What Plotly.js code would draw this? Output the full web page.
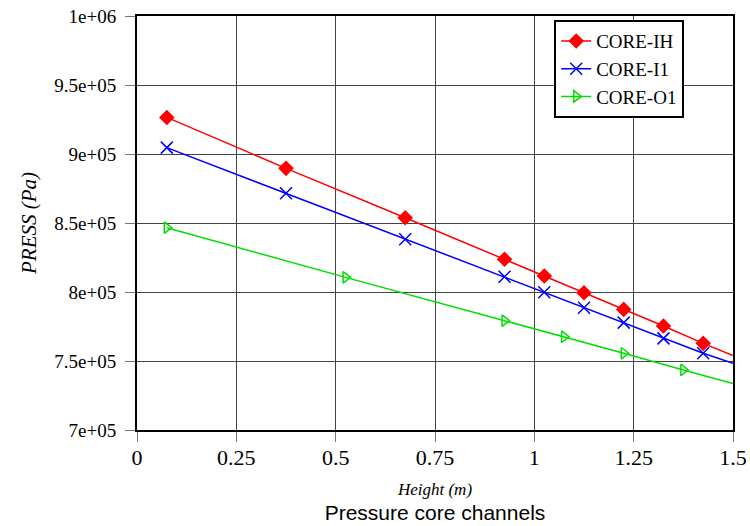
<!DOCTYPE html>
<html>
<head>
<meta charset="utf-8">
<script src="https://cdn.plot.ly/plotly-3.0.1.min.js"></script>
<style>html,body{margin:0;padding:0;background:#fff;}#chart{width:750px;height:526px;}</style>
</head>
<body>
<div id="chart"></div>
<script>
// ---- data ----
const seriesNames = ['CORE-IH', 'CORE-I1', 'CORE-O1'];
const xIH = [0.075, 0.375, 0.675, 0.925, 1.025, 1.125, 1.225, 1.325, 1.425];
const yIH = [926500, 889600, 853800, 823700, 811600, 799500, 787400, 775400, 762800];
const xI1 = [0.075, 0.375, 0.675, 0.925, 1.025, 1.125, 1.225, 1.325, 1.425];
const yI1 = [904600, 871500, 838200, 811100, 799800, 788600, 777800, 766400, 755600];
const xO1 = [0.075, 0.525, 0.925, 1.075, 1.225, 1.375];
const yO1 = [846600, 810600, 779200, 767600, 755600, 743500];
// line values where each curve leaves the plot at the right edge
const edgeX = 1.5;
const edgeIH = 754000;
const edgeI1 = 748300;
const edgeO1 = 733600;
const yTickVals = [700000, 750000, 800000, 850000, 900000, 950000, 1000000];
const yTickText = ['7e+05', '7.5e+05', '8e+05', '8.5e+05', '9e+05', '9.5e+05', '1e+06'];
const xTickVals = [0, 0.25, 0.5, 0.75, 1, 1.25, 1.5];
const xTickText = ['0', '0.25', '0.5', '0.75', '1', '1.25', '1.5'];

const serif = 'Liberation Serif, Times New Roman, serif';
const colors = ['#ff0000', '#0000ff', '#00dd00'];

function mainTrace(name, x, y, color, marker, group) {
  return {
    type: 'scatter', mode: 'lines+markers', name: name, x: x, y: y,
    legendgroup: group,
    line: {color: color, width: 1.5},
    marker: marker
  };
}
function tailTrace(x, y, ex, ey, color, group) {
  return {
    type: 'scatter', mode: 'lines', x: [x[x.length - 1], ex], y: [y[y.length - 1], ey],
    legendgroup: group, showlegend: false, hoverinfo: 'skip',
    line: {color: color, width: 1.5}
  };
}

const data = [
  tailTrace(xIH, yIH, edgeX, edgeIH, colors[0], 'g1'),
  tailTrace(xI1, yI1, edgeX, edgeI1, colors[1], 'g2'),
  tailTrace(xO1, yO1, edgeX, edgeO1, colors[2], 'g3'),
  mainTrace(seriesNames[0], xIH, yIH, colors[0], {symbol: 'diamond', size: 12, color: colors[0], line: {width: 0}}, 'g1'),
  mainTrace(seriesNames[1], xI1, yI1, colors[1], {symbol: 'x-thin-open', size: 12, color: colors[1], line: {width: 1.5, color: colors[1]}}, 'g2'),
  mainTrace(seriesNames[2], xO1, yO1, colors[2], {symbol: 'triangle-right-open', size: 10, color: colors[2], line: {width: 1.5, color: colors[2]}}, 'g3')
];

const layout = {
  width: 750, height: 526,
  margin: {l: 137, r: 17, t: 16, b: 96},
  paper_bgcolor: '#fff', plot_bgcolor: '#fff',
  showlegend: true,
  title: {
    text: 'Pressure core channels',
    font: {family: 'Liberation Sans, Arial, sans-serif', size: 21, color: '#000'},
    xref: 'paper', x: 0.5, xanchor: 'center',
    yref: 'container', y: 0.025, yanchor: 'middle'
  },
  xaxis: {
    range: [0, 1.5], tickmode: 'array', tickvals: xTickVals, ticktext: xTickText,
    showgrid: true, gridcolor: '#444', gridwidth: 1,
    showline: true, linecolor: '#000', linewidth: 2, mirror: true,
    ticks: 'outside', ticklen: 10, tickcolor: '#777', tickwidth: 1,
    tickfont: {family: serif, size: 22, color: '#000'},
    ticklabelstandoff: -3,
    zeroline: false,
    title: {text: 'Height (m)', font: {family: serif, size: 17, color: '#000', style: 'italic'}, standoff: 14}
  },
  yaxis: {
    range: [700000, 1000000], tickmode: 'array', tickvals: yTickVals, ticktext: yTickText,
    showgrid: true, gridcolor: '#444', gridwidth: 1,
    showline: true, linecolor: '#000', linewidth: 2, mirror: true,
    ticks: 'outside', ticklen: 10, tickcolor: '#777', tickwidth: 1,
    tickfont: {family: serif, size: 19, color: '#000'},
    ticklabelstandoff: 5,
    zeroline: false,
    title: {text: 'PRESS (Pa)', font: {family: serif, size: 21, color: '#000', style: 'italic'}, standoff: 12}
  },
  legend: {
    x: 0.70, y: 0.99, xanchor: 'left', yanchor: 'top',
    bgcolor: '#fff', bordercolor: '#000', borderwidth: 2,
    font: {family: serif, size: 19, color: '#000'},
    traceorder: 'grouped', tracegroupgap: 0
  }
};

Plotly.newPlot('chart', data, layout, {staticPlot: true, displayModeBar: false});
</script>
</body>
</html>
